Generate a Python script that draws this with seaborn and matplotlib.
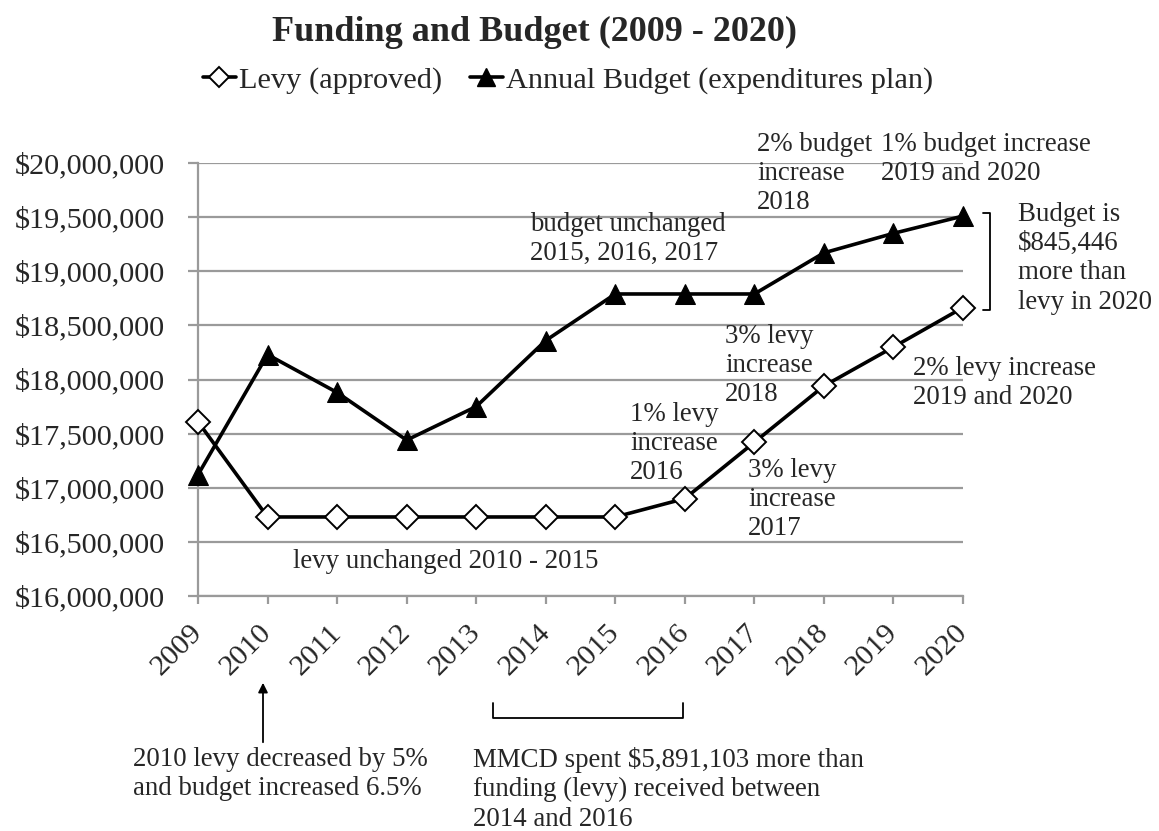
import numpy as np
import pandas as pd
import seaborn as sns
import matplotlib
matplotlib.use("Agg")
import matplotlib.pyplot as plt
from matplotlib.lines import Line2D
from matplotlib.patches import FancyArrowPatch
from matplotlib.ticker import FuncFormatter
from matplotlib.transforms import ScaledTranslation

# Funding (levy) and budget by year
years = [2009, 2010, 2011, 2012, 2013, 2014, 2015, 2016, 2017, 2018, 2019, 2020]
levy = [17.61e6, 16.73e6, 16.73e6, 16.73e6, 16.73e6, 16.73e6, 16.73e6,
        16.90e6, 17.42e6, 17.94e6, 18.30e6, 18.665e6]
budget = [17.12e6, 18.23e6, 17.88e6, 17.44e6, 17.75e6, 18.36e6, 18.79e6,
          18.79e6, 18.79e6, 19.17e6, 19.35e6, 19.51e6]
series_names = ["Levy (approved)", "Annual Budget (expenditures plan)"]
y_ticks = [16e6, 16.5e6, 17e6, 17.5e6, 18e6, 18.5e6, 19e6, 19.5e6, 20e6]

sns.set_theme(style="white")
plt.rcParams["font.family"] = ["Liberation Serif", "DejaVu Serif"]

W, H = 1159, 831
fig = plt.figure(figsize=(W / 100, H / 100), dpi=100)
ax = fig.add_axes([198 / W, 1 - 596 / H, (963 - 198) / W, (596 - 163) / H])

df = pd.DataFrame({"year": years, "levy": levy, "budget": budget})

grid_c = "#9a9a9a"
for yv in y_ticks:
    ax.axhline(yv, color=grid_c, lw=1.6, zorder=0)

sns.lineplot(data=df, x="year", y="levy", ax=ax, color="black", lw=2.6,
             marker="D", markersize=12, markerfacecolor="white",
             markeredgecolor="black", markeredgewidth=1.4, clip_on=False,
             zorder=3)
sns.lineplot(data=df, x="year", y="budget", ax=ax, color="black", lw=2.6,
             marker="^", markersize=15, markerfacecolor="black",
             markeredgecolor="black", clip_on=False, zorder=3)

ax.set_xlim(years[0], years[-1])
ax.set_ylim(y_ticks[0], y_ticks[-1])
ax.set_xticks(years)
ax.set_xticklabels([str(y) for y in years], rotation=45, ha="right",
                   rotation_mode="anchor")
ax.set_yticks(y_ticks)
ax.yaxis.set_major_formatter(FuncFormatter(lambda v, p: f"${v:,.0f}"))
ax.set_xlabel("")
ax.set_ylabel("")

for s in ["top", "right"]:
    ax.spines[s].set_visible(False)
for s in ["left", "bottom"]:
    ax.spines[s].set_color(grid_c)
    ax.spines[s].set_linewidth(1.6)

ax.tick_params(axis="y", which="major", length=7, width=1.6, color=grid_c,
               direction="out", pad=17, labelsize=21.8, left=True)
ax.tick_params(axis="x", which="major", length=6, width=1.6, color=grid_c,
               direction="out", pad=11, labelsize=21.8, bottom=True)
shift = ScaledTranslation(-9 / 100, 0, fig.dpi_scale_trans)
for lbl in ax.get_xticklabels():
    lbl.set_transform(lbl.get_transform() + shift)
ax.grid(False)

# Title and legend
fig.text(535 / W, 1 - 32 / H, "Funding and Budget (2009 - 2020)",
         ha="center", va="center", fontsize=26, fontweight="bold")
handles = [
    Line2D([], [], color="black", lw=2.6, marker="D", markersize=10,
           markerfacecolor="white", markeredgecolor="black",
           markeredgewidth=1.4),
    Line2D([], [], color="black", lw=2.6, marker="^", markersize=13,
           markerfacecolor="black"),
]
fig.legend(handles, series_names, loc="center", ncol=2,
           bbox_to_anchor=(568 / W, 1 - 80 / H), frameon=False,
           fontsize=21.9, handlelength=1.1, handletextpad=0.1,
           columnspacing=0.9)

# Annotations
notes = [
    (530, 212, "budget unchanged\n2015, 2016, 2017"),
    (757, 132, "2% budget\nincrease\n2018"),
    (881, 132, "1% budget increase\n2019 and 2020"),
    (1018, 202, "Budget is\n$845,446\nmore than\nlevy in 2020"),
    (725, 324, "3% levy\nincrease\n2018"),
    (913, 356, "2% levy increase\n2019 and 2020"),
    (630, 402, "1% levy\nincrease\n2016"),
    (748, 458, "3% levy\nincrease\n2017"),
    (293, 549, "levy unchanged 2010 - 2015"),
    (133, 747, "2010 levy decreased by 5%\nand budget increased 6.5%"),
    (473, 747, "MMCD spent $5,891,103 more than\nfunding (levy) received between\n2014 and 2016"),
]
for px, py, txt in notes:
    fig.text(px / W, 1 - py / H, txt, ha="left", va="top", fontsize=19.4,
             linespacing=1.22)


def fx(px):
    return px / W


def fy(py):
    return 1 - py / H


# Bracket beside the 2020 gap
fig.add_artist(Line2D([fx(983), fx(990), fx(990), fx(983)],
                      [fy(213), fy(213), fy(310), fy(310)],
                      color="black", lw=1.3))
# Bracket under 2014-2016
fig.add_artist(Line2D([fx(493), fx(493), fx(683), fx(683)],
                      [fy(703), fy(718), fy(718), fy(703)],
                      color="black", lw=1.3))
# Arrow pointing to 2010
fig.add_artist(FancyArrowPatch(
    (fx(263), fy(745)), (fx(263), fy(680)), transform=fig.transFigure,
    arrowstyle="-|>", mutation_scale=14, color="black", lw=1.3))

fig.savefig("out.png", dpi=100, facecolor="white")
